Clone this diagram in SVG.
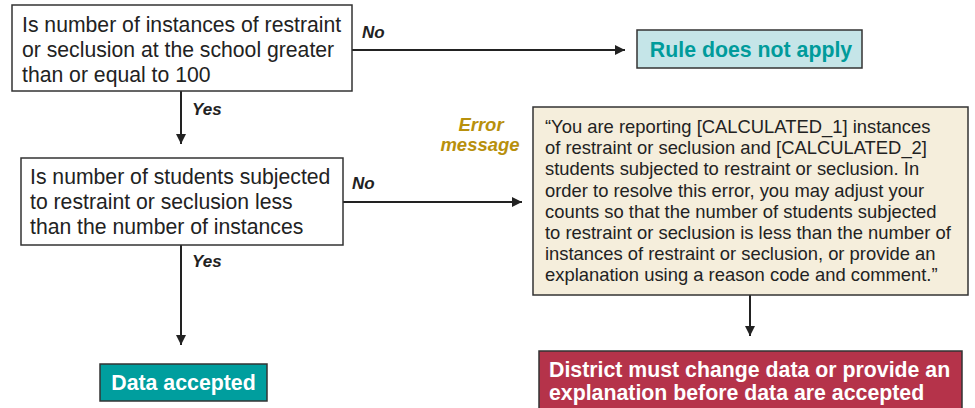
<svg xmlns="http://www.w3.org/2000/svg" width="975" height="408" viewBox="0 0 975 408">
<defs>
<marker id="arr" viewBox="0 0 10 10" refX="10" refY="5" markerWidth="10" markerHeight="10" markerUnits="userSpaceOnUse" orient="auto">
<path d="M0,0 L10,5 L0,10 z" fill="#222"/>
</marker>
</defs>
<style>
.box{stroke:#333;stroke-width:1.5}
.q{font-family:"Liberation Sans",Arial,sans-serif;font-size:21.2px;fill:#222}
.msg{font-family:"Liberation Sans",Arial,sans-serif;font-size:18.4px;fill:#222}
.lbl{font-family:"Liberation Sans",Arial,sans-serif;font-size:17px;font-weight:bold;font-style:italic;fill:#222}
.err{font-family:"Liberation Sans",Arial,sans-serif;font-size:18.5px;font-weight:bold;font-style:italic;fill:#b8900c}
.res{font-family:"Liberation Sans",Arial,sans-serif;font-size:21.3px;font-weight:bold}
.line{stroke:#222;stroke-width:2;fill:none;marker-end:url(#arr)}
</style>
<rect width="975" height="408" fill="#fff"/>
<g id="connectors">
<line class="line" x1="352" y1="50" x2="625" y2="50"/>
<line class="line" x1="181" y1="91" x2="181" y2="144"/>
<line class="line" x1="343" y1="202" x2="522" y2="202"/>
<line class="line" x1="181" y1="245" x2="181" y2="345"/>
<line class="line" x1="750" y1="295" x2="750" y2="336"/>
<text class="lbl" x="362" y="38">No</text>
<text class="lbl" x="192" y="115">Yes</text>
<text class="lbl" x="352" y="189">No</text>
<text class="lbl" x="192" y="267">Yes</text>
</g>
<g id="q1">
<rect class="box" x="12" y="5" width="340" height="86" fill="#fff"/>
<text class="q" x="22" y="32">Is number of instances of restraint</text>
<text class="q" x="22" y="57">or seclusion at the school greater</text>
<text class="q" x="22" y="82">than or equal to 100</text>
</g>
<g id="rule">
<rect class="box" x="637" y="30" width="225" height="38" fill="#c5e5e8"/>
<text class="res" x="751" y="56.5" text-anchor="middle" fill="#009b9b">Rule does not apply</text>
</g>
<g id="q2">
<rect class="box" x="21" y="158" width="322" height="87" fill="#fff"/>
<text class="q" x="30" y="184">Is number of students subjected</text>
<text class="q" x="30" y="209">to restraint or seclusion less</text>
<text class="q" x="30" y="234">than the number of instances</text>
</g>
<g id="errlabel">
<text class="err" x="481" y="131" text-anchor="middle">Error</text>
<text class="err" x="480" y="151" text-anchor="middle">message</text>
</g>
<g id="errbox">
<rect class="box" x="533" y="107" width="435" height="188" fill="#f5eedc"/>
<text class="msg" x="545" y="133">“You are reporting [CALCULATED_1] instances</text>
<text class="msg" x="545" y="154">of restraint or seclusion and [CALCULATED_2]</text>
<text class="msg" x="545" y="175">students subjected to restraint or seclusion. In</text>
<text class="msg" x="545" y="197">order to resolve this error, you may adjust your</text>
<text class="msg" x="545" y="218">counts so that the number of students subjected</text>
<text class="msg" x="545" y="239">to restraint or seclusion is less than the number of</text>
<text class="msg" x="545" y="260">instances of restraint or seclusion, or provide an</text>
<text class="msg" x="545" y="281">explanation using a reason code and comment.”</text>
</g>
<g id="accepted">
<rect class="box" x="100" y="364" width="167" height="37" fill="#009e9e"/>
<text class="res" x="183.5" y="390" text-anchor="middle" fill="#fff">Data accepted</text>
</g>
<g id="district">
<rect class="box" x="539" y="351" width="423" height="62" fill="#b5334a"/>
<text class="res" x="549" y="377" fill="#fff">District must change data or provide an</text>
<text class="res" x="549" y="400" fill="#fff">explanation before data are accepted</text>
</g>
</svg>
